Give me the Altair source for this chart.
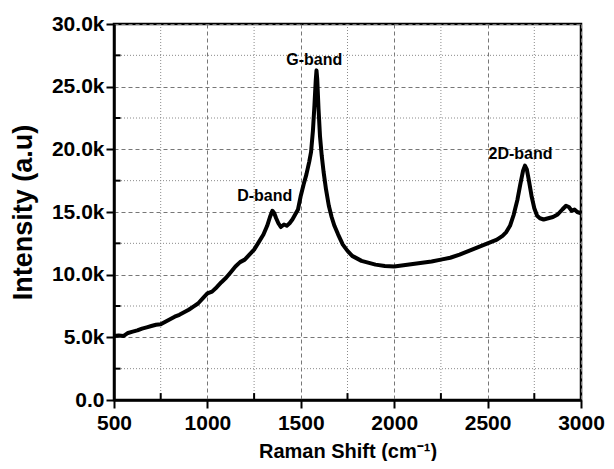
import altair as alt
import pandas as pd

shift = [500, 525, 550, 575, 600, 625, 650, 675, 700, 725, 750, 775, 800, 825, 850, 875,
         900, 925, 950, 975, 1000, 1025, 1050, 1075, 1100, 1125, 1150, 1175, 1200, 1225,
         1250, 1275, 1300, 1320, 1335, 1348, 1358, 1368, 1380, 1393, 1410, 1425, 1440,
         1455, 1470, 1485, 1500, 1515, 1530, 1545, 1555, 1565, 1573, 1580, 1584, 1588,
         1595, 1603, 1612, 1622, 1635, 1650, 1665, 1680, 1700, 1725, 1750, 1775, 1800,
         1825, 1850, 1875, 1900, 1950, 2000, 2050, 2100, 2150, 2200, 2250, 2300, 2350,
         2400, 2450, 2500, 2550, 2580, 2600, 2620, 2640, 2660, 2675, 2690, 2700, 2710,
         2720, 2735, 2750, 2765, 2780, 2800, 2825, 2850, 2875, 2900, 2920, 2935, 2950,
         2965, 2980, 3000]
intensity = [5100, 5150, 5100, 5350, 5450, 5550, 5700, 5800, 5900, 6000, 6050, 6250,
             6450, 6650, 6800, 7000, 7200, 7450, 7700, 8100, 8500, 8650, 9000, 9400,
             9750, 10200, 10650, 11000, 11200, 11600, 12000, 12600, 13200, 13900, 14600,
             15100, 14900, 14500, 14100, 13800, 14000, 13900, 14100, 14400, 14800, 15200,
             16300, 17200, 18000, 19000, 19800, 21500, 23500, 25500, 26300, 25600, 23200,
             21000, 19500, 18200, 16800, 15500, 14600, 13900, 13200, 12400, 11900, 11500,
             11300, 11100, 11000, 10900, 10800, 10700, 10650, 10750, 10850, 10950, 11050,
             11200, 11350, 11600, 11900, 12200, 12500, 12800, 13100, 13400, 13900, 14800,
             16000, 17200, 18300, 18700, 18400, 17600, 16300, 15300, 14700, 14500, 14400,
             14500, 14600, 14800, 15200, 15500, 15400, 15100, 15200, 15000, 14900]

band_labels = ["D-band", "G-band", "2D-band"]
band_x = [1307, 1572, 2676]
band_y = [15850, 26750, 19250]

x_major = [500, 1000, 1500, 2000, 2500, 3000]
y_major = [0, 5000, 10000, 15000, 20000, 25000, 30000]
x_minor = [750, 1250, 1750, 2250, 2750]
y_minor = [2500, 7500, 12500, 17500, 22500, 27500]

FONT = "Liberation Sans"
xs = alt.Scale(domain=[500, 3000], nice=False, zero=False)
ys = alt.Scale(domain=[0, 30000], nice=False)
xaxis = alt.Axis(values=x_major, format="d", title="Raman Shift (cm⁻¹)",
                 titleFontSize=20, titlePadding=8, labelPadding=4, labelFlush=False)
yaxis = alt.Axis(values=y_major, title="Intensity (a.u)",
                 labelExpr="datum.value == 0 ? '0.0' : format(datum.value/1000, '.1f') + 'k'",
                 titleFontSize=27, titlePadding=14, labelPadding=2, labelFlush=False)

spec = pd.DataFrame({"shift": shift, "intensity": intensity})
bands = pd.DataFrame({"label": band_labels, "shift": band_x, "intensity": band_y})
xmin_df = pd.DataFrame({"shift": x_minor})
ymin_df = pd.DataFrame({"intensity": y_minor})

X = lambda: alt.X("shift:Q", scale=xs, axis=xaxis)
Y = lambda: alt.Y("intensity:Q", scale=ys, axis=yaxis)

line = alt.Chart(spec).mark_line(color="black", strokeWidth=4, strokeJoin="round").encode(
    x=X(), y=Y())

xgrid_minor = alt.Chart(xmin_df).mark_rule(color="#8a8a8a", strokeWidth=1, strokeDash=[1, 2]).encode(
    x=X())
ygrid_minor = alt.Chart(ymin_df).mark_rule(color="#8a8a8a", strokeWidth=1, strokeDash=[1, 2]).encode(
    y=Y())

xtick_minor = alt.Chart(xmin_df).mark_rule(color="black", strokeWidth=2).encode(
    x=X(), y=alt.datum(0, scale=ys, axis=yaxis), y2=alt.datum(550))
ytick_minor = alt.Chart(ymin_df).mark_rule(color="black", strokeWidth=2).encode(
    y=Y(), x=alt.datum(500, scale=xs, axis=xaxis), x2=alt.datum(535))

text = alt.Chart(bands).mark_text(font=FONT, fontSize=16, fontWeight="bold", color="black",
                                  align="center", baseline="alphabetic").encode(
    x=X(), y=Y(), text="label:N")

chart = alt.layer(xgrid_minor, ygrid_minor, line, xtick_minor, ytick_minor, text).properties(
    width=467, height=376, padding={"left": 1, "top": 5, "right": 0, "bottom": 0}
).configure_view(stroke="black", strokeWidth=2.5).configure_axis(
    labelFont=FONT, titleFont=FONT, labelFontSize=21, labelFontWeight="bold",
    titleFontWeight="bold", labelColor="black", titleColor="black",
    domainColor="black", domainWidth=2.5, tickColor="black", tickWidth=2, tickSize=8,
    grid=True, gridColor="#777777", gridDash=[4, 3], gridWidth=1
)

chart.save("out.html", embed_options={"renderer": "svg", "actions": False})
